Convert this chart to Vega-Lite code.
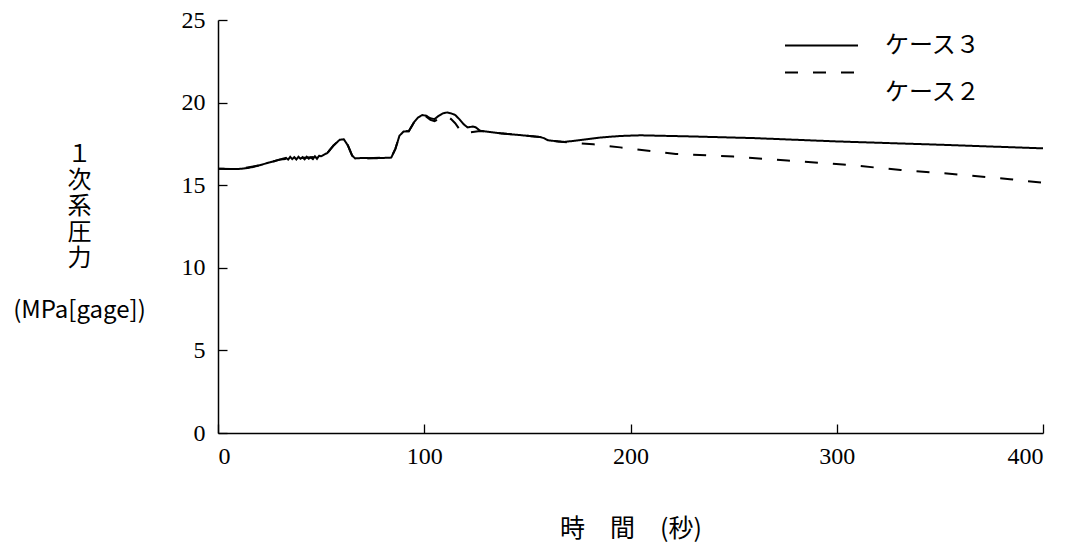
{
  "$schema": "https://vega.github.io/schema/vega-lite/v6.json",
  "width": 825,
  "height": 413,
  "autosize": {"type": "none"},
  "padding": {"left": 218, "top": 20, "right": 26, "bottom": 120},
  "background": "white",
  "config": {
    "view": {"stroke": null},
    "axis": {
      "grid": false,
      "domainColor": "black",
      "domainWidth": 1.5,
      "tickColor": "black",
      "tickWidth": 1.3,
      "labelColor": "black",
      "titleColor": "black",
      "labelFont": "Liberation Serif",
      "labelFontSize": 24,
      "titleFont": "Noto Sans CJK JP",
      "titleFontSize": 24,
      "titleFontWeight": "normal"
    }
  },
  "data": {
    "values": [
      {"t": 0, "p": 16.0, "case": "ケース３"},
      {"t": 5, "p": 15.98, "case": "ケース３"},
      {"t": 10, "p": 15.98, "case": "ケース３"},
      {"t": 15, "p": 16.05, "case": "ケース３"},
      {"t": 20, "p": 16.2, "case": "ケース３"},
      {"t": 25, "p": 16.38, "case": "ケース３"},
      {"t": 30, "p": 16.55, "case": "ケース３"},
      {"t": 33, "p": 16.65, "case": "ケース３"},
      {"t": 34, "p": 16.55, "case": "ケース３"},
      {"t": 35, "p": 16.72, "case": "ケース３"},
      {"t": 36, "p": 16.58, "case": "ケース３"},
      {"t": 37, "p": 16.7, "case": "ケース３"},
      {"t": 38, "p": 16.56, "case": "ケース３"},
      {"t": 39, "p": 16.72, "case": "ケース３"},
      {"t": 40, "p": 16.6, "case": "ケース３"},
      {"t": 41, "p": 16.7, "case": "ケース３"},
      {"t": 42, "p": 16.57, "case": "ケース３"},
      {"t": 43, "p": 16.72, "case": "ケース３"},
      {"t": 44, "p": 16.6, "case": "ケース３"},
      {"t": 45, "p": 16.68, "case": "ケース３"},
      {"t": 46, "p": 16.58, "case": "ケース３"},
      {"t": 47, "p": 16.75, "case": "ケース３"},
      {"t": 48, "p": 16.6, "case": "ケース３"},
      {"t": 49, "p": 16.78, "case": "ケース３"},
      {"t": 50, "p": 16.75, "case": "ケース３"},
      {"t": 53, "p": 16.95, "case": "ケース３"},
      {"t": 56, "p": 17.4, "case": "ケース３"},
      {"t": 59, "p": 17.75, "case": "ケース３"},
      {"t": 61, "p": 17.78, "case": "ケース３"},
      {"t": 63, "p": 17.4, "case": "ケース３"},
      {"t": 65, "p": 16.8, "case": "ケース３"},
      {"t": 66.5, "p": 16.62, "case": "ケース３"},
      {"t": 70, "p": 16.65, "case": "ケース３"},
      {"t": 75, "p": 16.63, "case": "ケース３"},
      {"t": 80, "p": 16.65, "case": "ケース３"},
      {"t": 84, "p": 16.67, "case": "ケース３"},
      {"t": 86, "p": 17.2, "case": "ケース３"},
      {"t": 88, "p": 18.0, "case": "ケース３"},
      {"t": 90, "p": 18.25, "case": "ケース３"},
      {"t": 92.5, "p": 18.27, "case": "ケース３"},
      {"t": 95, "p": 18.8, "case": "ケース３"},
      {"t": 97, "p": 19.1, "case": "ケース３"},
      {"t": 99, "p": 19.25, "case": "ケース３"},
      {"t": 101, "p": 19.2, "case": "ケース３"},
      {"t": 103, "p": 19.05, "case": "ケース３"},
      {"t": 105, "p": 19.0, "case": "ケース３"},
      {"t": 107, "p": 19.2, "case": "ケース３"},
      {"t": 109, "p": 19.35, "case": "ケース３"},
      {"t": 111, "p": 19.4, "case": "ケース３"},
      {"t": 113, "p": 19.35, "case": "ケース３"},
      {"t": 115, "p": 19.25, "case": "ケース３"},
      {"t": 117, "p": 19.0, "case": "ケース３"},
      {"t": 119, "p": 18.7, "case": "ケース３"},
      {"t": 121, "p": 18.5, "case": "ケース３"},
      {"t": 123.5, "p": 18.55, "case": "ケース３"},
      {"t": 125, "p": 18.5, "case": "ケース３"},
      {"t": 127, "p": 18.3, "case": "ケース３"},
      {"t": 130, "p": 18.25, "case": "ケース３"},
      {"t": 137, "p": 18.14, "case": "ケース３"},
      {"t": 145, "p": 18.05, "case": "ケース３"},
      {"t": 156, "p": 17.92, "case": "ケース３"},
      {"t": 158, "p": 17.85, "case": "ケース３"},
      {"t": 160, "p": 17.72, "case": "ケース３"},
      {"t": 165, "p": 17.65, "case": "ケース３"},
      {"t": 168, "p": 17.62, "case": "ケース３"},
      {"t": 175, "p": 17.72, "case": "ケース３"},
      {"t": 185, "p": 17.88, "case": "ケース３"},
      {"t": 195, "p": 17.98, "case": "ケース３"},
      {"t": 205, "p": 18.02, "case": "ケース３"},
      {"t": 230, "p": 17.95, "case": "ケース３"},
      {"t": 260, "p": 17.85, "case": "ケース３"},
      {"t": 300, "p": 17.65, "case": "ケース３"},
      {"t": 350, "p": 17.45, "case": "ケース３"},
      {"t": 400, "p": 17.23, "case": "ケース３"},

      {"t": 0, "p": 16.0, "case": "ケース２"},
      {"t": 10, "p": 15.98, "case": "ケース２"},
      {"t": 20, "p": 16.2, "case": "ケース２"},
      {"t": 30, "p": 16.55, "case": "ケース２"},
      {"t": 50, "p": 16.75, "case": "ケース２"},
      {"t": 53, "p": 16.95, "case": "ケース２"},
      {"t": 56, "p": 17.4, "case": "ケース２"},
      {"t": 59, "p": 17.75, "case": "ケース２"},
      {"t": 61, "p": 17.78, "case": "ケース２"},
      {"t": 63, "p": 17.4, "case": "ケース２"},
      {"t": 65, "p": 16.8, "case": "ケース２"},
      {"t": 66.5, "p": 16.62, "case": "ケース２"},
      {"t": 84, "p": 16.67, "case": "ケース２"},
      {"t": 86, "p": 17.2, "case": "ケース２"},
      {"t": 88, "p": 18.0, "case": "ケース２"},
      {"t": 90, "p": 18.25, "case": "ケース２"},
      {"t": 92.5, "p": 18.27, "case": "ケース２"},
      {"t": 95, "p": 18.8, "case": "ケース２"},
      {"t": 97, "p": 19.1, "case": "ケース２"},
      {"t": 99, "p": 19.25, "case": "ケース２"},
      {"t": 101, "p": 19.15, "case": "ケース２"},
      {"t": 103, "p": 18.95, "case": "ケース２"},
      {"t": 105, "p": 18.88, "case": "ケース２"},
      {"t": 107, "p": 19.0, "case": "ケース２"},
      {"t": 109, "p": 19.15, "case": "ケース２"},
      {"t": 111, "p": 19.2, "case": "ケース２"},
      {"t": 113, "p": 19.0, "case": "ケース２"},
      {"t": 115, "p": 18.75, "case": "ケース２"},
      {"t": 117, "p": 18.4, "case": "ケース２"},
      {"t": 119, "p": 18.12, "case": "ケース２"},
      {"t": 122, "p": 18.2, "case": "ケース２"},
      {"t": 127, "p": 18.28, "case": "ケース２"},
      {"t": 130, "p": 18.25, "case": "ケース２"},
      {"t": 137, "p": 18.14, "case": "ケース２"},
      {"t": 145, "p": 18.05, "case": "ケース２"},
      {"t": 156, "p": 17.92, "case": "ケース２"},
      {"t": 158, "p": 17.85, "case": "ケース２"},
      {"t": 160, "p": 17.72, "case": "ケース２"},
      {"t": 165, "p": 17.65, "case": "ケース２"},
      {"t": 170, "p": 17.58, "case": "ケース２"},
      {"t": 182, "p": 17.48, "case": "ケース２"},
      {"t": 195, "p": 17.29, "case": "ケース２"},
      {"t": 210, "p": 17.07, "case": "ケース２"},
      {"t": 222, "p": 16.89, "case": "ケース２"},
      {"t": 250, "p": 16.73, "case": "ケース２"},
      {"t": 276, "p": 16.49, "case": "ケース２"},
      {"t": 303, "p": 16.26, "case": "ケース２"},
      {"t": 331, "p": 15.92, "case": "ケース２"},
      {"t": 356, "p": 15.68, "case": "ケース２"},
      {"t": 384, "p": 15.36, "case": "ケース２"},
      {"t": 400, "p": 15.15, "case": "ケース２"}
    ]
  },
  "mark": {"type": "line", "color": "black", "strokeWidth": 2},
  "encoding": {
    "x": {
      "field": "t",
      "type": "quantitative",
      "scale": {"domain": [0, 400], "nice": false},
      "axis": {
        "values": [0, 100, 200, 300, 400],
        "ticks": true,
        "tickSize": -9,
        "labelPadding": 20,
        "title": "時　間　(秒)",
        "titleFontSize": 25,
        "titleY": 95,
        "titleBaseline": "middle"
      }
    },
    "y": {
      "field": "p",
      "type": "quantitative",
      "scale": {"domain": [0, 25], "nice": false},
      "axis": {
        "values": [0, 5, 10, 15, 20, 25],
        "ticks": true,
        "tickSize": -9,
        "labelPadding": 22,
        "title": ["１", "次", "系", "圧", "力", "\u2800", "(MPa[gage])"],
        "titleAngle": 0,
        "titleAlign": "center",
        "titleBaseline": "top",
        "titleX": -139,
        "titleY": 122,
        "titleLineHeight": 26
      }
    },
    "strokeDash": {
      "field": "case",
      "type": "nominal",
      "scale": {"domain": ["ケース３", "ケース２"], "range": [[1, 0], [13, 15]]},
      "legend": {
        "orient": "none",
        "legendX": 566,
        "legendY": 12,
        "title": null,
        "padding": 0,
        "symbolType": "stroke",
        "symbolSize": 5329,
        "symbolStrokeColor": "black",
        "symbolStrokeWidth": 2,
        "clipHeight": 27,
        "rowPadding": 0,
        "labelOffset": 26,
        "labelFont": "Noto Sans CJK JP",
        "labelFontSize": 24,
        "labelColor": "black",
        "labelExpr": "datum.label == 'ケース２' ? ['', 'ケース２'] : datum.label",
        "encode": {"labels": {"update": {"lineHeight": {"value": 20}}}}
      }
    }
  }
}
